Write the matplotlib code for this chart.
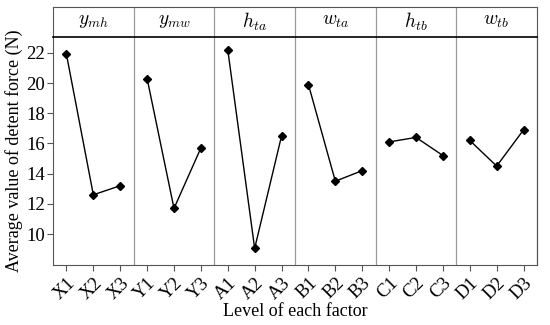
import matplotlib.pyplot as plt
import numpy as np

plt.rcParams['font.family'] = ['Liberation Serif', 'DejaVu Serif']
plt.rcParams['mathtext.fontset'] = 'cm'

factors = [r'$y_{mh}$', r'$y_{mw}$', r'$h_{ta}$', r'$w_{ta}$', r'$h_{tb}$', r'$w_{tb}$']
levels = ['X1', 'X2', 'X3', 'Y1', 'Y2', 'Y3', 'A1', 'A2', 'A3',
          'B1', 'B2', 'B3', 'C1', 'C2', 'C3', 'D1', 'D2', 'D3']
means = [[21.9, 12.6, 13.2],
         [20.3, 11.7, 15.7],
         [22.2, 9.05, 16.5],
         [19.9, 13.5, 14.2],
         [16.1, 16.4, 15.2],
         [16.2, 14.5, 16.9]]

fig = plt.figure(figsize=(5.5, 3.25), dpi=100)
ax = fig.add_axes([53/550, 1-265/325, 484/550, 228/325])
hx = fig.add_axes([53/550, 1-37/325, 484/550, 30/325])

for i, vals in enumerate(means):
    xs = np.arange(3) + 1 + 3*i
    ax.plot(xs, vals, color='black', lw=1.0, marker='D', ms=4.5)
    if i > 0:
        ax.axvline(3*i + 0.5, color='#999999', lw=0.9)
        hx.axvline(3*i + 0.5, color='#999999', lw=0.9)
    hx.text(3*i + 2, 0.5, factors[i], ha='center', va='center', fontsize=14)

ax.set_xlim(0.5, 18.5)
ax.set_ylim(7.95, 23.05)
ax.set_yticks([10, 12, 14, 16, 18, 20, 22])
ax.set_xticks(np.arange(1, 19))
ax.set_xticklabels(levels, rotation=45, ha='right', va='top',
                   rotation_mode='anchor', fontsize=13.5)
ax.tick_params(axis='y', labelsize=13.5, direction='out', length=4, color='#555555', pad=2)
ax.tick_params(axis='x', direction='out', length=4, color='#555555', pad=3)
for s in ['top', 'right']:
    ax.spines[s].set_visible(False)
for s in ['left', 'bottom']:
    ax.spines[s].set_color('#555555')
ax.set_ylabel('Average value of detent force (N)', fontsize=13, labelpad=2)
ax.set_xlabel('Level of each factor', fontsize=13, labelpad=0)

# right border of the plotting area
ax.plot([1, 1], [0, 1], transform=ax.transAxes, color='#555555', lw=0.9, clip_on=False)

hx.set_xlim(0.5, 18.5)
hx.set_ylim(0, 1)
hx.set_xticks([])
hx.set_yticks([])
for s in ['top', 'left', 'right']:
    hx.spines[s].set_color('#555555')
hx.spines['bottom'].set_color('black')
hx.spines['bottom'].set_linewidth(1.2)

fig.savefig('out.png', dpi=100)
